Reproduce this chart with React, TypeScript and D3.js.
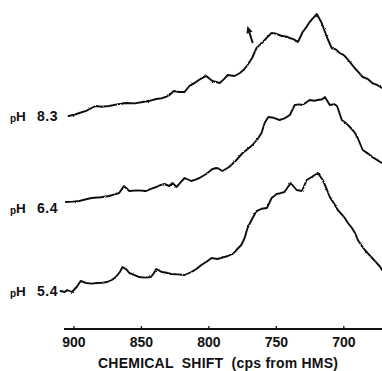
import React from "react";
import * as d3 from "d3";

// Chemical shift axis (cps from HMS)
const shiftTicks = [900, 850, 800, 750, 700];
const shiftDomain = [907.4, 671.7];

// pH 8.3 trace
const ph83Shift = [904, 900, 896, 891, 887, 884, 879, 874, 868, 861, 855, 849, 844, 839, 835, 832, 829, 826, 822, 818, 814.5, 810, 806, 802, 797.4, 792, 789, 786, 781, 777, 774, 771.4, 768, 764.7, 760, 757, 753.5, 750, 746, 743, 740, 737, 734, 730.5, 728, 725.3, 722, 720, 716.4, 712.6, 709, 706, 703, 700, 698, 695, 692, 689, 686, 682, 679, 675, 671.7];
const ph83Value = [2, 2.6, 3.5, 4.6, 6, 7, 6.6, 7, 7.8, 8.5, 8.3, 9, 9.6, 10.5, 10.9, 11.5, 12.6, 14.5, 14, 14, 17, 18.8, 20.6, 22, 19.5, 18.5, 20.3, 22.5, 22, 23.5, 25.2, 27.5, 31, 36, 39, 41.2, 43.5, 43.1, 42, 41.8, 41, 40.3, 39, 44, 46.2, 49, 51.5, 53, 48.5, 41.5, 36, 35.3, 33.5, 32.4, 31, 28.6, 26, 23.8, 21.5, 20.4, 18.5, 17.4, 16];

// pH 6.4 trace
const ph64Shift = [906, 901, 896, 891, 887, 880, 874, 870, 866.5, 863, 859, 853, 846.5, 843, 839, 836, 833, 829.4, 827, 824, 821, 818, 813, 810, 807, 802, 797.4, 793.7, 790, 785, 779.6, 775, 771, 767.7, 764, 761, 758.7, 756, 752, 747.6, 744, 740, 736.4, 733, 731, 728, 725.3, 722, 719.3, 716, 714, 710.4, 707, 705, 701.5, 698, 695.5, 692, 690, 686, 682, 679, 676, 673, 671.7];
const ph64Value = [4, 4.2, 4.5, 5.4, 6, 6.4, 7, 7.8, 8.5, 12, 9.5, 9.8, 9.5, 10.6, 11.5, 12.4, 13, 12, 13.5, 11.5, 13.8, 16, 14.5, 15.2, 16, 18, 20.5, 21, 19.5, 21.5, 25, 28.5, 30.6, 32.5, 35.4, 38.5, 43.5, 46.5, 46.1, 45, 45.8, 47.5, 52.5, 52.8, 52.5, 53.7, 55, 54.6, 55, 55.4, 56.5, 52.5, 52.9, 52, 45, 43.2, 41.5, 38.8, 36.5, 30, 28.2, 26.5, 25.3, 24, 23.5];

// pH 5.4 trace
const ph54Shift = [910, 907, 905, 901.5, 898, 895, 891, 887, 883, 879, 875.5, 872, 869, 866, 864, 861, 859, 855, 852, 847, 843, 841, 839, 837, 835, 831, 828, 823, 818, 813, 809, 805.6, 802, 798, 793.7, 790, 786, 782, 779.6, 776, 773.5, 771.4, 768, 764.7, 761, 757, 753.5, 749.8, 747, 744, 739.4, 735, 731, 727.5, 723.8, 719.3, 715.6, 713, 710.4, 707, 704.5, 702, 699.3, 697, 694, 691.5, 689.6, 687, 684.4, 682, 679, 676, 673, 671.7];
const ph54Value = [4.5, 4, 5, 4, 6.5, 9.5, 8.5, 8.2, 8.5, 8.6, 9, 10, 11.5, 14, 16.5, 15.2, 13.5, 12.4, 11.5, 11.2, 11.5, 13.2, 15.5, 14.8, 14, 13.6, 13, 12.8, 12.5, 14, 15.6, 17.5, 19, 21, 20.5, 21.2, 22, 23.2, 25, 27.5, 31, 36, 40.5, 44.5, 45.6, 46, 51, 53, 53.4, 54, 58.5, 55, 54.5, 60, 61.5, 63.5, 60, 56, 51.5, 48, 45, 43.2, 41, 38.6, 36, 33.2, 30, 27.4, 25, 23.2, 21, 18.8, 16.5, 15];

// Stacking order, top to bottom
const traceNames = ["8.3", "6.4", "5.4"];
const traceShifts = [ph83Shift, ph64Shift, ph54Shift];
const traceValues = [ph83Value, ph64Value, ph54Value];
const traceOffsets = [90, 45, 0];

// Arrow on the pH 8.3 trace (tail, head) in shift / intensity units
const arrowShift = [767.5, 771.5];
const arrowValue = [38.5, 47];

const W = 382;
const H = 371;

export default function App() {
  const x = d3.scaleLinear().domain(shiftDomain).range([64, 382]);
  const y = d3.scaleLinear().domain([0, 150]).range([300, 0]);
  const axisY = 329;
  const labelBaselines = [121, 213, 296];

  const traces = traceNames.map((name, i) => {
    const pts = traceShifts[i].map((s, j) => [s, traceValues[i][j] + traceOffsets[i]] as [number, number]);
    const line = d3
      .line<[number, number]>()
      .x((d) => x(d[0]))
      .y((d) => y(d[1]))
      .curve(d3.curveLinear);
    return { name, d: line(pts) || "" };
  });

  const ax0 = x(arrowShift[0]);
  const ay0 = y(arrowValue[0] + traceOffsets[0]);
  const ax1 = x(arrowShift[1]);
  const ay1 = y(arrowValue[1] + traceOffsets[0]);
  const ang = Math.atan2(ay1 - ay0, ax1 - ax0);
  const headLen = 7;
  const headW = 3.2;
  const bx = ax1 - headLen * Math.cos(ang);
  const by = ay1 - headLen * Math.sin(ang);
  const px = -Math.sin(ang);
  const py = Math.cos(ang);
  const head = `M${ax1},${ay1} L${bx + headW * px},${by + headW * py} L${bx - headW * px},${by - headW * py} Z`;

  const font = "'Liberation Sans', Arial, sans-serif";

  return (
    <svg
      width={W}
      height={H}
      viewBox={`0 0 ${W} ${H}`}
      style={{ position: "absolute", left: 0, top: 0, background: "#fff" }}
    >
      <defs>
        <filter id="ink" x="-5%" y="-10%" width="110%" height="120%">
          <feTurbulence type="fractalNoise" baseFrequency="0.9" numOctaves={2} seed={4} result="n" />
          <feDisplacementMap in="SourceGraphic" in2="n" scale={2} xChannelSelector="R" yChannelSelector="G" />
        </filter>
      </defs>
      <rect width={W} height={H} fill="#fff" />

      {traces.map((t) => (
        <path
          key={t.name}
          d={t.d}
          fill="none"
          stroke="#111"
          strokeWidth={1.9}
          strokeLinejoin="round"
          strokeLinecap="round"
          filter="url(#ink)"
        />
      ))}

      {/* arrow marking the shoulder on the pH 8.3 trace */}
      <line x1={ax0} y1={ay0} x2={bx} y2={by} stroke="#111" strokeWidth={2} />
      <path d={head} fill="#111" />

      {traceNames.map((name, i) => (
        <g key={name} fontFamily={font} fontWeight="bold" fill="#111">
          <text x={10} y={labelBaselines[i] + 1} fontSize={10}>
            p
          </text>
          <text x={16} y={labelBaselines[i]} fontSize={13.5}>
            H
          </text>
          <text x={37} y={labelBaselines[i]} fontSize={14} letterSpacing={0.5}>
            {name}
          </text>
        </g>
      ))}

      {/* chemical shift axis */}
      <line x1={x.range()[0]} x2={x.range()[1]} y1={axisY} y2={axisY} stroke="#111" strokeWidth={2} />
      {shiftTicks.map((t) => (
        <g key={t}>
          <line x1={x(t)} x2={x(t)} y1={axisY} y2={axisY - 3} stroke="#111" strokeWidth={1.3} />
          <text
            x={x(t)}
            y={347}
            textAnchor="middle"
            fontFamily={font}
            fontWeight="bold"
            fontSize={14}
            fill="#111"
          >
            {t}
          </text>
        </g>
      ))}
      <text
        x={98}
        y={368}
        fontFamily={font}
        fontWeight="bold"
        fontSize={14}
        fill="#111"
        textLength={240}
        lengthAdjust="spacing"
        style={{ whiteSpace: "pre" }}
      >
        {"CHEMICAL  SHIFT  (cps from HMS)"}
      </text>
    </svg>
  );
}
